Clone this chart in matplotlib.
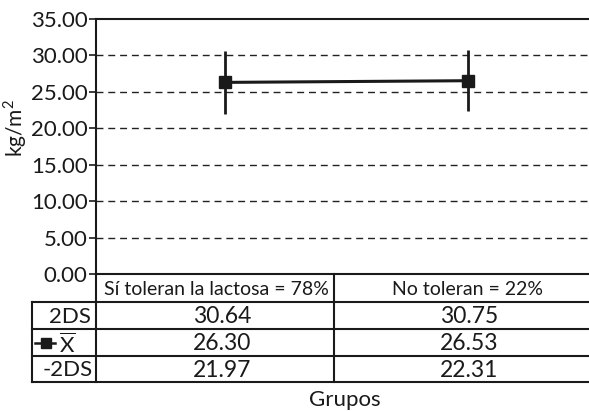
import matplotlib
matplotlib.use("Agg")
import matplotlib.pyplot as plt
from matplotlib.lines import Line2D

# Data
groups = ["Sí toleran la lactosa = 78%", "No toleran = 22%"]
upper_2ds = [30.64, 30.75]
mean_vals = [26.30, 26.53]
lower_2ds = [21.97, 22.31]
row_labels = ["2DS", "X", "-2DS"]
y_ticks = [0, 5, 10, 15, 20, 25, 30, 35]

plt.rcParams["font.family"] = ["Lato", "DejaVu Sans"]
plt.rcParams["mathtext.fontset"] = "custom"
plt.rcParams["mathtext.rm"] = "Lato"

W, H = 589, 411
fig = plt.figure(figsize=(W / 100, H / 100), dpi=100)

# plot area in pixel units
L, R, T, B = 96, 589, 19, 274
ax = fig.add_axes([L / W, 1 - B / H, (R - L) / W, (B - T) / H])

xs = list(range(len(groups)))
ax.set_xlim(-0.531, 1.498)
ax.set_ylim(0, 35)

for y in y_ticks[1:-1]:
    ax.axhline(y, color="#222222", lw=1.0, ls=(0, (5, 3.5)), zorder=1)

err_lo = [m - l for m, l in zip(mean_vals, lower_2ds)]
err_hi = [u - m for m, u in zip(mean_vals, upper_2ds)]
ax.errorbar(xs, mean_vals, yerr=[err_lo, err_hi], color="#1a1a1a", lw=2.2,
            elinewidth=2.0, capsize=0, marker="s", markersize=8.5,
            markerfacecolor="#1a1a1a", markeredgecolor="#1a1a1a", zorder=3)

ax.set_yticks(y_ticks)
ax.set_yticklabels([f"{v:.2f}" for v in y_ticks], fontsize=16, color="#1a1a1a")
ax.tick_params(axis="y", length=5, width=1.2, pad=1, colors="#1a1a1a")
ax.set_xticks([])
ax.spines["right"].set_visible(False)
for s in ["left", "top", "bottom"]:
    ax.spines[s].set_linewidth(1.5)
    ax.spines[s].set_color("#1a1a1a")

fig.text(15 / W, 1 - 128 / H, "kg/m$^2$", rotation=90, fontsize=15,
         ha="center", va="center", color="#1a1a1a")

# table drawn in pixel coordinates
tab = fig.add_axes([0, 0, 1, 1])
tab.set_xlim(0, W)
tab.set_ylim(H, 0)
tab.axis("off")

lc = "#1a1a1a"
col_split = 334
row_y = [274, 302, 329, 356, 382]
label_left = 32

def hline(y, x0, x1):
    tab.add_line(Line2D([x0, x1], [y, y], color=lc, lw=1.5))

def vline(x, y0, y1):
    tab.add_line(Line2D([x, x], [y0, y1], color=lc, lw=1.5))

for y in row_y[1:]:
    hline(y, label_left, W)
vline(L, row_y[0], row_y[-1])
vline(col_split, row_y[0], row_y[-1])
vline(label_left, row_y[1], row_y[-1])

col_centers = [216, 467]
val_centers = [222, 469]
for c, g in zip(col_centers, groups):
    tab.text(c, (row_y[0] + row_y[1]) / 2 + 1, g, fontsize=14,
             ha="center", va="center", color=lc)

rows = [upper_2ds, mean_vals, lower_2ds]
for i, vals in enumerate(rows):
    yc = (row_y[i + 1] + row_y[i + 2]) / 2 + 1
    for c, v in zip(val_centers, vals):
        tab.text(c, yc, f"{v:.2f}", fontsize=16.5, ha="center", va="center", color=lc)

# row labels
tab.text(91, (row_y[1] + row_y[2]) / 2 + 1, row_labels[0], fontsize=16,
         ha="right", va="center", color=lc)
tab.text(93, (row_y[3] + row_y[4]) / 2 + 1, row_labels[2], fontsize=16,
         ha="right", va="center", color=lc)
ym = (row_y[2] + row_y[3]) / 2
tab.add_line(Line2D([35, 55], [ym, ym], color=lc, lw=1.8))
tab.add_line(Line2D([46], [ym], color=lc, marker="s", markersize=6.5, lw=0))
tab.text(67, ym + 2, r"$\overline{\mathrm{X}}$", fontsize=16,
         ha="center", va="center", color=lc)

fig.text(345 / W, 1 - 400 / H, "Grupos", fontsize=16, ha="center", va="center",
         color=lc)

fig.savefig("out.png", dpi=100)
